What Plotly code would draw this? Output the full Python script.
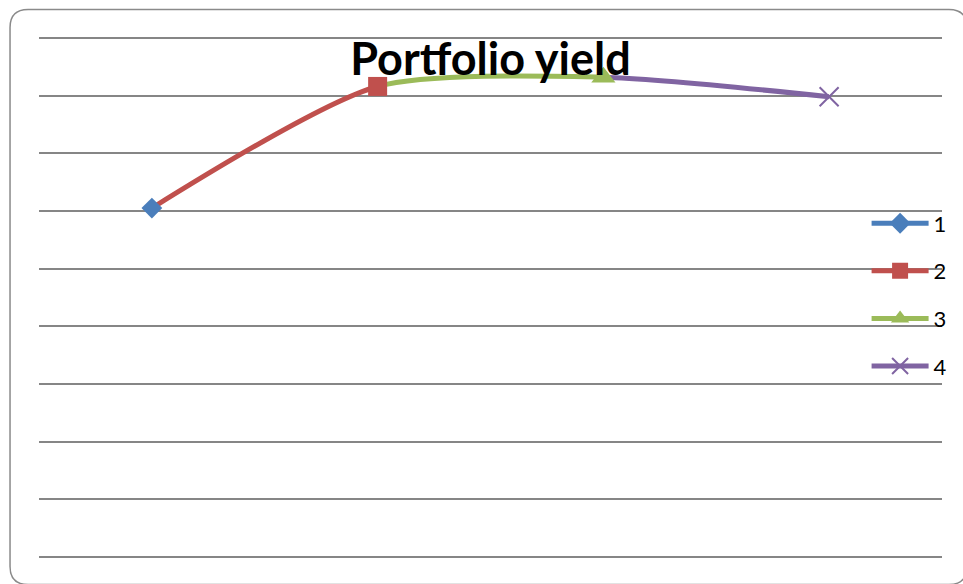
import plotly.graph_objects as go

# ---- data ----
categories = [1, 2, 3, 4]
series_names = ["1", "2", "3", "4"]
yield_values = [6.05, 8.16, 8.32, 7.98]
grid_values = [0, 1, 2, 3, 4, 5, 6, 7, 8, 9]

colors = ["#4A7EBB", "#C0504D", "#9BBB59", "#8064A2"]
symbols = ["diamond", "square", "triangle-up", "x-thin"]
marker_sizes = [16, 19, 21, 19]

W, H = 963, 584
# outer pixel edges of the gridline block
GRID_L, GRID_R, GRID_T, GRID_B = 39, 943, 38, 557
PAD = 6  # keep edge gridlines inside the plot area
ML, MR = GRID_L, W - GRID_R
MT, MB = GRID_T - PAD, H - GRID_B - PAD
PW, PH = W - ML - MR, H - MT - MB

x_lo, x_hi = categories[0] - 0.5, categories[-1] + 0.5
span = x_hi - x_lo
unit_px = (GRID_B - GRID_T) / (grid_values[-1] - grid_values[0])
y_pad = PAD / unit_px
y_range = [grid_values[0] - y_pad, grid_values[-1] + y_pad]

LINE_W = 5

fig = go.Figure()

# base subplot carries the horizontal gridlines
fig.add_trace(go.Scatter(x=[], y=[], xaxis="x", yaxis="y",
                         showlegend=False, hoverinfo="skip"))

layout_axes = {}
# one clipped subplot per segment: the full smoothed series is drawn in each,
# but only the stretch between two neighbouring categories is visible
for k in range(1, len(categories)):
    ax_id = k + 1
    a = (categories[k - 1] - x_lo) / span
    b = (categories[k] - x_lo) / span
    fig.add_trace(go.Scatter(
        x=categories, y=yield_values, mode="lines",
        line=dict(color=colors[k], width=LINE_W, shape="spline", smoothing=0.7),
        xaxis=f"x{ax_id}", yaxis="y2", showlegend=False, hoverinfo="skip"))
    layout_axes[f"xaxis{ax_id}"] = dict(
        domain=[a, b], range=[categories[k - 1], categories[k]],
        visible=False, showgrid=False, zeroline=False, anchor="y2")

# markers (and legend entries) on top
mk_axis = len(categories) + 1
for i, name in enumerate(series_names):
    sym = symbols[i]
    marker = dict(symbol=sym, size=marker_sizes[i], color=colors[i])
    if sym.endswith("-thin"):
        marker["line"] = dict(color=colors[i], width=2)
    fig.add_trace(go.Scatter(
        x=[categories[i]], y=[yield_values[i]], name=name,
        mode="lines+markers", line=dict(color=colors[i], width=LINE_W),
        marker=marker, xaxis=f"x{mk_axis}", yaxis="y2",
        legendgroup=name))
layout_axes[f"xaxis{mk_axis}"] = dict(
    domain=[0, 1], range=[x_lo, x_hi], visible=False,
    showgrid=False, zeroline=False, anchor="y2")


def px_to_paper(px, py):
    return (px - ML) / PW, (H - MB - py) / PH


# rounded chart border
L, T, R, B, r = 10, 9.5, 968, 584.5, 18
pts = [
    ("M", [(L + r, T)]), ("L", [(R - r, T)]), ("Q", [(R, T), (R, T + r)]),
    ("L", [(R, B - r)]), ("Q", [(R, B), (R - r, B)]), ("L", [(L + r, B)]),
    ("Q", [(L, B), (L, B - r)]), ("L", [(L, T + r)]), ("Q", [(L, T), (L + r, T)]),
]
path = ""
for cmd, coords in pts:
    path += cmd + " ".join("{:.5f},{:.5f}".format(*px_to_paper(*c)) for c in coords) + " "
path += "Z"

fig.update_layout(
    width=W, height=H,
    margin=dict(l=ML, r=MR, t=MT, b=MB, pad=0),
    paper_bgcolor="white", plot_bgcolor="rgba(0,0,0,0)",
    title=dict(text="<b>Portfolio yield</b>", x=0.5, xref="paper",
               y=1 - 75 / H, yanchor="bottom",
               font=dict(family="Lato", size=45, color="black")),
    xaxis=dict(domain=[0, 1], range=[x_lo, x_hi], visible=False,
               showgrid=False, zeroline=False, anchor="y"),
    yaxis=dict(domain=[0, 1], range=y_range,
               tickvals=grid_values, showticklabels=False, ticks="",
               showgrid=True, gridcolor="#868686", gridwidth=2,
               zeroline=False, showline=False, anchor="x"),
    yaxis2=dict(domain=[0, 1], range=y_range,
                visible=False, showgrid=False, zeroline=False, anchor=f"x{mk_axis}"),
    legend=dict(x=1.0095, xanchor="right", y=0.679, yanchor="top",
                bgcolor="rgba(0,0,0,0)", traceorder="grouped", tracegroupgap=16,
                itemwidth=57, font=dict(family="Lato", size=22, color="black")),
    shapes=[dict(type="path", path=path, xref="paper", yref="paper",
                 line=dict(color="#8A8A8A", width=1.5), layer="below")],
    showlegend=True,
    **layout_axes,
)

fig.write_html("out.html")
